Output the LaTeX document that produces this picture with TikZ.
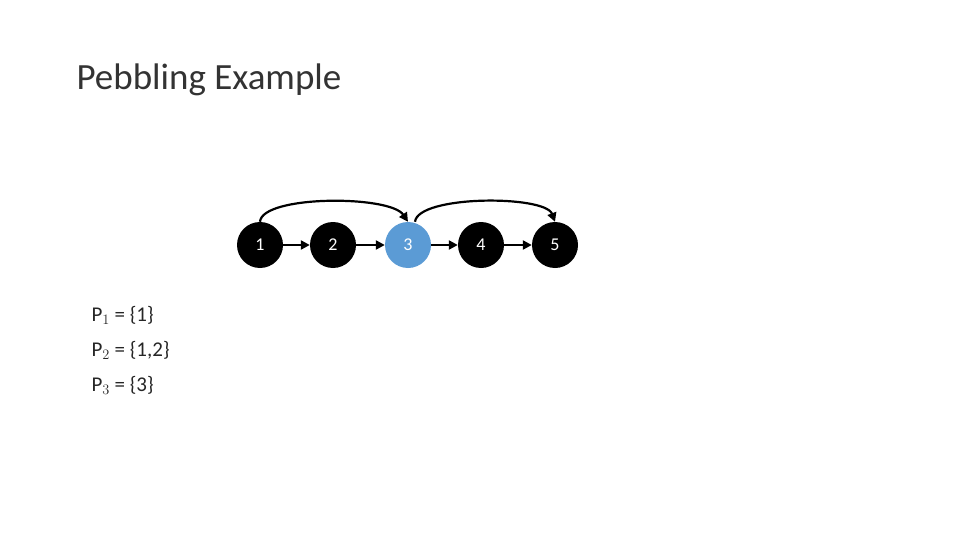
\documentclass[tikz,border=0pt]{standalone}
\usepackage{fontspec}
\setmainfont{Carlito}
\usetikzlibrary{arrows.meta}
\definecolor{nodeblue}{HTML}{5B9BD5}
\begin{document}
\begin{tikzpicture}[x=1pt,y=-1pt,
  vert/.style={circle,fill=black,minimum size=46pt,inner sep=0pt,text=white,font=\fontsize{18}{20}\selectfont},
  arr/.style={-{Triangle[length=9pt,width=9pt]},line width=2.2pt}]
\useasboundingbox (0,0) rectangle (960,540);
\node[anchor=west,font=\fontsize{37}{40}\selectfont\color{black!80}] (title) at (73,80) {Pebbling Example};
\node[vert] (n1) at (260,245) {1};
\node[vert] (n2) at (333,245) {2};
\node[vert,fill=nodeblue] (n3) at (408,245) {3};
\node[vert] (n4) at (481,245) {4};
\node[vert] (n5) at (555,245) {5};
\draw[arr] (n1) -- (n2);
\draw[arr] (n2) -- (n3);
\draw[arr] (n3) -- (n4);
\draw[arr] (n4) -- (n5);
\draw[arr] (n1.north) .. controls (262,195) and (390,195) .. (n3.north);
\draw[arr] (n3.north) ++(7,0) coordinate (s3) (s3) .. controls (418,195) and (545,195) .. (n5.north);
\node[anchor=west,align=left,font=\fontsize{21}{35}\selectfont\color{black!85}] (plist) at (88,350)
 {P$_1$ = \{1\}\\P$_2$ = \{1,2\}\\P$_3$ = \{3\}};
\end{tikzpicture}
\end{document}
